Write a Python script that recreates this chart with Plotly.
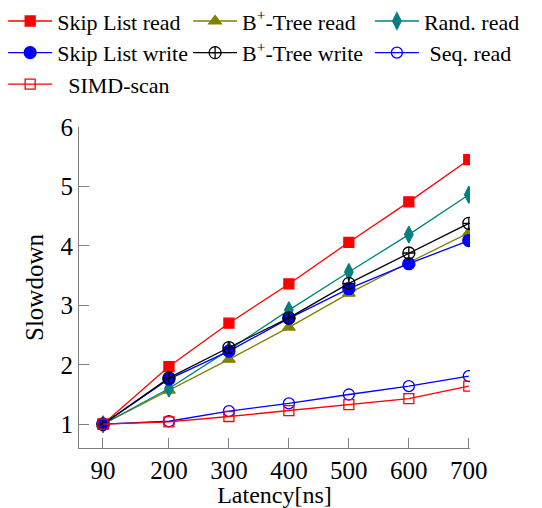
import plotly.graph_objects as go

latency = [90, 200, 300, 400, 500, 600, 700]
skiplist_read = [1.0, 1.97, 2.70, 3.36, 4.06, 4.74, 5.45]
bptree_read = [1.0, 1.57, 2.09, 2.63, 3.20, 3.72, 4.22]
rand_read = [1.0, 1.60, 2.25, 2.92, 3.56, 4.19, 4.86]
skiplist_write = [1.0, 1.76, 2.23, 2.78, 3.28, 3.70, 4.09]
bptree_write = [1.0, 1.78, 2.29, 2.79, 3.37, 3.88, 4.38]
seq_read = [1.0, 1.05, 1.22, 1.35, 1.50, 1.64, 1.81]
simd_scan = [1.0, 1.04, 1.13, 1.23, 1.33, 1.43, 1.64]

x_ticks = [90, 200, 300, 400, 500, 600, 700]
y_ticks = [1, 2, 3, 4, 5, 6]

# name, values, colour, symbol, size, legend column
series = [
    ("Skip List read", skiplist_read, "#ff0000", "square", 10, "legend"),
    ("B<sup>+</sup>-Tree read", bptree_read, "#808000", "triangle-up", 11, "legend2"),
    ("Rand. read", rand_read, "#008080", "diamond-tall", 12, "legend3"),
    ("Skip List write", skiplist_write, "#0000ff", "circle", 12, "legend"),
    ("B<sup>+</sup>-Tree write", bptree_write, "#000000", "circle-cross-open", 12, "legend2"),
    ("\u00a0Seq. read", seq_read, "#0000ff", "circle-open", 11, "legend3"),
    ("\u00a0\u00a0SIMD-scan", simd_scan, "#ff0000", "square-open", 10, "legend"),
]

fig = go.Figure()
for name, vals, color, sym, size, leg in series:
    fig.add_trace(go.Scatter(
        x=latency, y=vals, name=name, mode="lines+markers", legend=leg,
        line=dict(color=color, width=1.3),
        marker=dict(symbol=sym, size=size, color=color,
                    line=dict(color=color, width=1.3)),
    ))

font_family = '"Liberation Serif", "DejaVu Serif", serif'
legend_common = dict(
    orientation="v", yanchor="top", xanchor="left", y=1.395,
    itemwidth=44, font=dict(family=font_family, size=22, color="black"),
    bgcolor="rgba(0,0,0,0)", borderwidth=0, tracegroupgap=0,
)
fig.update_layout(
    width=542, height=508,
    margin=dict(l=79, r=72, t=127, b=60, autoexpand=False),
    plot_bgcolor="white", paper_bgcolor="white",
    font=dict(family=font_family, color="black", size=20),
    showlegend=True,
    legend=dict(x=-0.194, **legend_common),
    legend2=dict(x=0.279, **legend_common),
    legend3=dict(x=0.744, **legend_common),
    xaxis=dict(
        range=[50, 702], tickvals=x_ticks, ticktext=[str(v) for v in x_ticks],
        showgrid=False, zeroline=False, showline=True, linecolor="#808080",
        linewidth=1.2, ticks="inside", ticklen=10, tickcolor="#808080",
        tickfont=dict(family=font_family, size=25),
        title=dict(text="Latency[ns]", font=dict(family=font_family, size=24), standoff=2),
    ),
    yaxis=dict(
        range=[0.6, 6.0], tickvals=y_ticks,
        showgrid=False, zeroline=False, showline=True, linecolor="#808080",
        linewidth=1.2, ticks="inside", ticklen=10, tickcolor="#808080",
        tickfont=dict(family=font_family, size=25),
        title=dict(text="Slowdown", font=dict(family=font_family, size=25), standoff=9),
    ),
)

fig.write_html("out.html", config={"displayModeBar": False},
               post_script="document.body.style.margin='0';")
